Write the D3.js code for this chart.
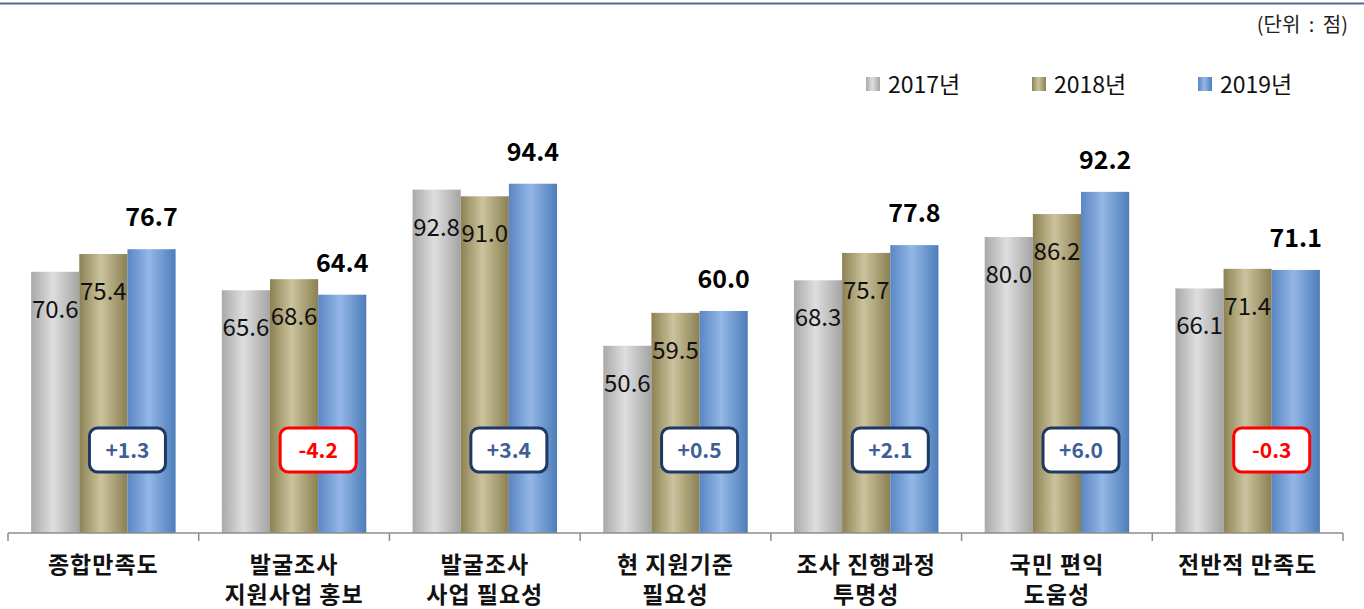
<!DOCTYPE html>
<html>
<head>
<meta charset="utf-8">
<script src="https://cdn.jsdelivr.net/npm/d3@7/dist/d3.min.js"></script>
<style>
  body { margin: 0; background: #fff; }
  svg { display: block; font-family: "Noto Sans CJK KR", "Noto Sans", sans-serif; }
</style>
</head>
<body>
<div id="chart"></div>
<script>
// 발굴조사 만족도 연도별 비교
const categories = [
  ["종합만족도"],
  ["발굴조사", "지원사업 홍보"],
  ["발굴조사", "사업 필요성"],
  ["현 지원기준", "필요성"],
  ["조사 진행과정", "투명성"],
  ["국민 편익", "도움성"],
  ["전반적 만족도"]
];
const years = ["2017년", "2018년", "2019년"];
const v2017 = [70.6, 65.6, 92.8, 50.6, 68.3, 80.0, 66.1];
const v2018 = [75.4, 68.6, 91.0, 59.5, 75.7, 86.2, 71.4];
const v2019 = [76.7, 64.4, 94.4, 60.0, 77.8, 92.2, 71.1];

(function() {
  const width = 1364, height = 609;
  const series = [v2017, v2018, v2019];
  const idx = d3.range(categories.length);

  const svg = d3.select('#chart').append('svg')
    .attr('width', width)
    .attr('height', height);

  // gradients for cylinder-like bars
  const defs = svg.append('defs');
  const grads = [
    ['g2017', '#a9a9a9', '#dedede', '#a4a4a4'],
    ['g2018', '#8c8253', '#cbc39d', '#8a8052'],
    ['g2019', '#5a86c4', '#93b7e6', '#4d7db9']
  ];
  grads.forEach(([id, a, b, c]) => {
    const g = defs.append('linearGradient').attr('id', id)
      .attr('x1', '0%').attr('x2', '100%').attr('y1', '0%').attr('y2', '0%');
    g.append('stop').attr('offset', '0%').attr('stop-color', a);
    g.append('stop').attr('offset', '45%').attr('stop-color', b);
    g.append('stop').attr('offset', '100%').attr('stop-color', c);
  });

  // top rule
  svg.append('line')
    .attr('x1', 0).attr('x2', width).attr('y1', 3.5).attr('y2', 3.5)
    .attr('stroke', '#4a6c9c').attr('stroke-width', 2);

  svg.append('text')
    .attr('x', 1348).attr('y', 32)
    .attr('text-anchor', 'end')
    .style('font-size', '20px')
    .style('word-spacing', '4px')
    .attr('fill', '#222')
    .text('(단위 : 점)');

  const x0 = d3.scaleBand()
    .domain(idx)
    .range([8, 1343])
    .padding(0);

  const x1 = d3.scaleBand()
    .domain(d3.range(3))
    .range([0, x0.bandwidth()])
    .paddingInner(0)
    .paddingOuter(0.48);

  const y = d3.scaleLinear()
    .domain([0, 100])
    .range([533, 163]);

  // legend
  const legend = svg.append('g');
  years.forEach((yr, i) => {
    const lx = 866 + i * 166;
    legend.append('rect')
      .attr('x', lx).attr('y', 77).attr('width', 14).attr('height', 14)
      .attr('fill', `url(#${grads[i][0]})`);
    legend.append('text')
      .attr('x', lx + 22).attr('y', 93)
      .style('font-size', '23px')
      .attr('fill', '#111')
      .text(yr);
  });

  // bars
  const groups = svg.selectAll('.grp')
    .data(idx)
    .join('g')
    .attr('class', 'grp')
    .attr('transform', i => `translate(${x0(i)},0)`);

  series.forEach((vals, s) => {
    groups.append('rect')
      .attr('x', x1(s))
      .attr('y', i => y(vals[i]))
      .attr('width', x1.bandwidth())
      .attr('height', i => y(0) - y(vals[i]))
      .attr('fill', `url(#${grads[s][0]})`);
  });

  // value labels: 2017, 2018 inside bar; 2019 bold above
  [0, 1].forEach(s => {
    groups.append('text')
      .attr('x', x1(s) + x1.bandwidth() / 2)
      .attr('y', i => y(series[s][i]) + 46)
      .attr('text-anchor', 'middle')
      .style('font-size', '24px')
      .attr('fill', '#111')
      .text(i => series[s][i].toFixed(1));
  });

  groups.append('text')
    .attr('x', x1(2) + x1.bandwidth() / 2)
    .attr('y', i => y(v2019[i]) - 23)
    .attr('text-anchor', 'middle')
    .style('font-size', '25px')
    .style('font-weight', 'bold')
    .attr('fill', '#000')
    .text(i => v2019[i].toFixed(1));

  // change badges (2019 - 2018)
  const badge = groups.append('g')
    .attr('transform', `translate(${x1(2)},450)`);
  badge.append('rect')
    .attr('x', -38).attr('y', -22)
    .attr('width', 76).attr('height', 44)
    .attr('rx', 8)
    .attr('fill', '#fff')
    .attr('stroke', i => (v2019[i] - v2018[i]) < 0 ? '#ff0000' : '#1f3864')
    .attr('stroke-width', 3);
  badge.append('text')
    .attr('y', 8)
    .attr('text-anchor', 'middle')
    .style('font-size', '21px')
    .style('font-weight', 'bold')
    .attr('fill', i => (v2019[i] - v2018[i]) < 0 ? '#ff0000' : '#3d5f96')
    .text(i => {
      const d = Math.round((v2019[i] - v2018[i]) * 10) / 10;
      return (d > 0 ? '+' : '') + d.toFixed(1);
    });

  // axis
  const axis = svg.append('g').attr('transform', `translate(0,${y(0)})`);
  axis.append('line')
    .attr('x1', x0.range()[0]).attr('x2', x0.range()[1])
    .attr('stroke', '#8c8c8c').attr('stroke-width', 1.5);
  axis.selectAll('.tick')
    .data(idx.concat([categories.length]))
    .join('line')
    .attr('x1', i => i < categories.length ? x0(i) : x0.range()[1])
    .attr('x2', i => i < categories.length ? x0(i) : x0.range()[1])
    .attr('y1', 0).attr('y2', 8)
    .attr('stroke', '#8c8c8c').attr('stroke-width', 1.5);

  // category labels
  const lab = groups.append('text')
    .attr('x', x0.bandwidth() / 2)
    .attr('text-anchor', 'middle')
    .style('font-size', '23px')
    .style('letter-spacing', '1px')
    .style('font-weight', 'bold')
    .attr('fill', '#111');
  lab.selectAll('tspan')
    .data(i => categories[i])
    .join('tspan')
    .attr('x', x0.bandwidth() / 2)
    .attr('y', (d, j) => 573 + j * 30)
    .text(d => d);
})();
</script>
</body>
</html>
